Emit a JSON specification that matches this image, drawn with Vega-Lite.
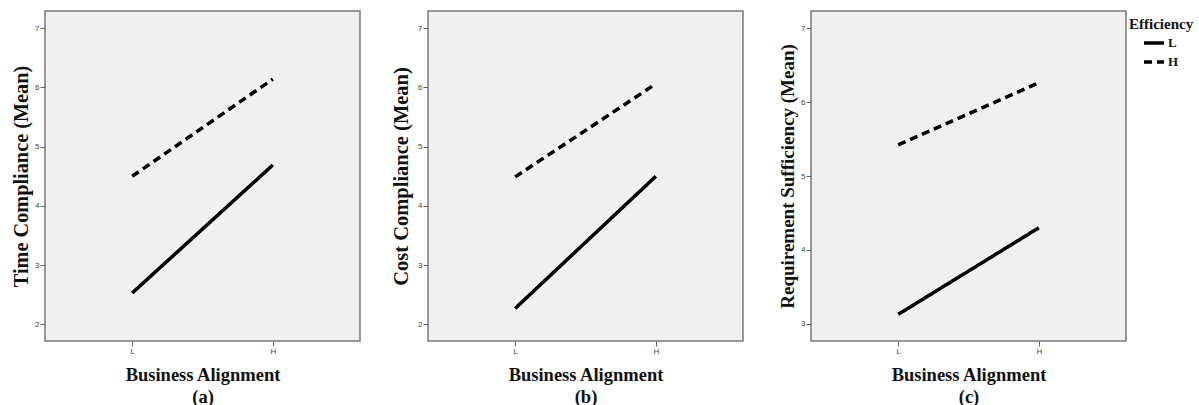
{
  "$schema": "https://vega.github.io/schema/vega-lite/v6.json",
  "padding": {"left": 10, "top": 10, "right": 0, "bottom": 0},
  "background": "white",
  "bounds": "flush",
  "spacing": 68,
  "datasets": {
    "a": [
      {"align": "L", "efficiency": "L", "mean": 2.53},
      {"align": "H", "efficiency": "L", "mean": 4.69},
      {"align": "L", "efficiency": "H", "mean": 4.50},
      {"align": "H", "efficiency": "H", "mean": 6.14}
    ],
    "b": [
      {"align": "L", "efficiency": "L", "mean": 2.27},
      {"align": "H", "efficiency": "L", "mean": 4.50},
      {"align": "L", "efficiency": "H", "mean": 4.49},
      {"align": "H", "efficiency": "H", "mean": 6.06}
    ],
    "c": [
      {"align": "L", "efficiency": "L", "mean": 3.13},
      {"align": "H", "efficiency": "L", "mean": 4.30},
      {"align": "L", "efficiency": "H", "mean": 5.42},
      {"align": "H", "efficiency": "H", "mean": 6.26}
    ]
  },
  "config": {
    "view": {"fill": "#f0f0f0", "stroke": "#7a7a7a", "strokeWidth": 1.5},
    "axis": {
      "grid": false, "domain": false, "tickColor": "#666", "tickSize": 5, "tickWidth": 1,
      "labelFont": "Liberation Sans", "labelFontSize": 8, "labelColor": "#444", "labelPadding": 1,
      "titleFont": "Liberation Serif", "titleFontWeight": "bold", "titleColor": "#111"
    },
    "legend": {
      "orient": "right", "offset": -4, "padding": 6,
      "titleFont": "Liberation Serif", "titleFontWeight": "bold", "titleFontSize": 15, "titleColor": "#111", "titlePadding": -1,
      "labelFont": "Liberation Serif", "labelFontWeight": "bold", "labelFontSize": 13, "labelColor": "#111", "labelOffset": 2,
      "symbolType": "stroke", "symbolSize": 400, "symbolStrokeWidth": 3.5, "symbolStrokeColor": "black", "symbolOffset": 13,
      "rowPadding": -4
    }
  },
  "hconcat": [
    {
      "width": 315, "height": 330,
      "data": {"name": "a"},
      "mark": {"type": "line", "color": "black", "strokeWidth": 3.5, "strokeCap": "butt"},
      "encoding": {
        "x": {"field": "align", "type": "ordinal", "sort": ["L", "H"], "scale": {"type": "point", "padding": 0.62},
          "axis": {"title": ["Business Alignment", "(a)"], "labelAngle": 0, "titleFontSize": 18.5, "titleY": 39.5, "titleBaseline": "alphabetic", "titleLineHeight": 21.5}},
        "y": {"field": "mean", "type": "quantitative", "scale": {"domain": [1.72, 7.29], "nice": false, "zero": false},
          "axis": {"values": [2, 3, 4, 5, 6, 7], "title": "Time Compliance (Mean)", "titleFontSize": 20.3, "titleX": -24, "titleBaseline": "middle"}},
        "strokeDash": {"field": "efficiency", "type": "nominal", "title": "Efficiency", "sort": ["L", "H"], "scale": {"domain": ["L", "H"], "range": [[1, 0], [8, 5]]}}
      }
    },
    {
      "width": 315, "height": 330,
      "data": {"name": "b"},
      "mark": {"type": "line", "color": "black", "strokeWidth": 3.5, "strokeCap": "butt"},
      "encoding": {
        "x": {"field": "align", "type": "ordinal", "sort": ["L", "H"], "scale": {"type": "point", "padding": 0.62},
          "axis": {"title": ["Business Alignment", "(b)"], "labelAngle": 0, "titleFontSize": 18.5, "titleY": 39.5, "titleBaseline": "alphabetic", "titleLineHeight": 21.5}},
        "y": {"field": "mean", "type": "quantitative", "scale": {"domain": [1.72, 7.29], "nice": false, "zero": false},
          "axis": {"values": [2, 3, 4, 5, 6, 7], "title": "Cost Compliance (Mean)", "titleFontSize": 20.5, "titleX": -26.5, "titleBaseline": "middle"}},
        "strokeDash": {"field": "efficiency", "type": "nominal", "title": "Efficiency", "sort": ["L", "H"], "scale": {"domain": ["L", "H"], "range": [[1, 0], [8, 5]]}}
      }
    },
    {
      "width": 315, "height": 330,
      "data": {"name": "c"},
      "mark": {"type": "line", "color": "black", "strokeWidth": 3.5, "strokeCap": "butt"},
      "encoding": {
        "x": {"field": "align", "type": "ordinal", "sort": ["L", "H"], "scale": {"type": "point", "padding": 0.62},
          "axis": {"title": ["Business Alignment", "(c)"], "labelAngle": 0, "titleFontSize": 18.5, "titleY": 39.5, "titleBaseline": "alphabetic", "titleLineHeight": 21.5}},
        "y": {"field": "mean", "type": "quantitative", "scale": {"domain": [2.77, 7.23], "nice": false, "zero": false},
          "axis": {"values": [3, 4, 5, 6, 7], "title": "Requirement Sufficiency (Mean)", "titleFontSize": 19, "titleX": -24, "titleBaseline": "middle"}},
        "strokeDash": {"field": "efficiency", "type": "nominal", "title": "Efficiency", "sort": ["L", "H"], "scale": {"domain": ["L", "H"], "range": [[1, 0], [8, 5]]}}
      }
    }
  ]
}
